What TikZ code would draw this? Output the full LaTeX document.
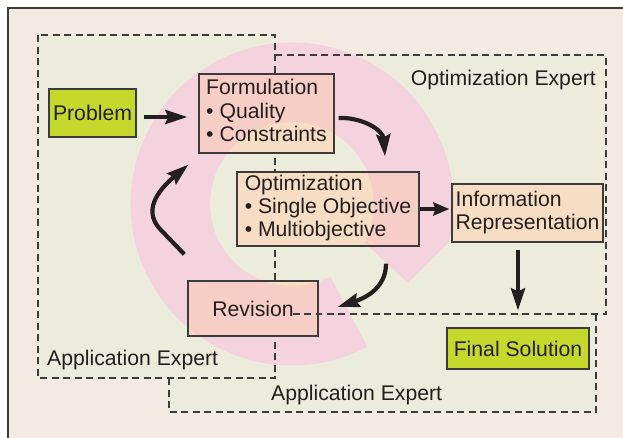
\documentclass[tikz,border=0pt]{standalone}
\usepackage{fontspec}
\setmainfont{Liberation Sans}
\usetikzlibrary{arrows.meta,calc}
\definecolor{bgbeige}{RGB}{243,234,226}
\definecolor{regiongreen}{RGB}{236,236,220}
\definecolor{ringpink}{RGB}{244,210,222}
\definecolor{boxpeach}{RGB}{246,221,196}
\definecolor{boxsalmon}{RGB}{246,206,198}
\definecolor{limebox}{RGB}{197,217,45}
\definecolor{ink}{RGB}{35,31,32}
\definecolor{lineg}{RGB}{60,60,60}
\tikzset{
  ringpath/.style={insert path={(ro) arc[start angle=-13.5,end angle=297.8,radius=161.5] -- (ri) arc[start angle=297.8,end angle=-28,radius=82] -- (ringtip) -- cycle}},
  dashline/.style={draw=lineg, line width=1.3pt, dash pattern=on 7pt off 4.5pt},
  stepbox/.style={draw=lineg, line width=1.3pt, fill=boxpeach, inner sep=0pt, align=left, text=ink,
    path picture={\fill[boxsalmon, ringpath];}},
  limenode/.style={draw=lineg, line width=1.3pt, fill=limebox, inner sep=0pt, text=ink},
  arr/.style={draw=ink, line width=4.2pt, -{Stealth[length=22pt,width=14pt,inset=3pt]}},
  arrsmall/.style={draw=ink, line width=4.2pt, -{Stealth[length=16pt,width=13pt,inset=2pt]}},
  lbl/.style={text=ink, inner sep=0pt}
}
\begin{document}
\begin{tikzpicture}[x=1pt,y=1pt,font=\fontsize{21.2}{23.3}\selectfont]
\clip (0,0) rectangle (623,-437);
% frame
\draw[fill=bgbeige, draw=lineg, line width=1.4pt] (8,-8) rectangle (650,-460);
% regions
\fill[regiongreen] (38,-35) -- (275,-35) -- (275,-55) -- (606,-55) -- (606,-314) -- (596,-314)
  -- (596,-412) -- (169,-412) -- (169,-378) -- (38,-378) -- cycle;
% ring geometry
\coordinate (C) at (292,-204);
\coordinate (ro) at ($(C)+(-13.5:161.5)$);
\coordinate (ri) at ($(C)+(297.8:82)$);
\coordinate (ringtip) at (408,-283);
\fill[ringpink, ringpath];
% dashed expert regions
\draw[dashline] (38,-35) rectangle (275,-378);
\draw[dashline] (275,-55) -- (606,-55) -- (606,-314) -- (275,-314);
\draw[dashline] (596,-314) -- (596,-412) -- (169,-412) -- (169,-378);
% labels
\node[lbl, anchor=base east] (lblopt) at (596,-85) {Optimization Expert};
\node[lbl, anchor=base west] (lblapp) at (47,-365) {Application Expert};
\node[lbl, anchor=base west] (lblappb) at (271,-400) {Application Expert};
% boxes
\node[limenode, minimum width=87pt, minimum height=48pt] (prob) at (92.5,-113) {Problem};
\node[stepbox, minimum width=135pt, minimum height=79pt] (form) at (266.5,-113.5)
  {\strut Formulation\\\strut\textbullet\ Quality\\\strut\textbullet\ Constraints};
\node[stepbox, minimum width=182pt, minimum height=74pt] (opt) at (328,-209)
  {\strut Optimization\\\strut\textbullet\ Single Objective\\\strut\textbullet\ Multiobjective};
\node[stepbox, minimum width=151pt, minimum height=58pt] (info) at (527.5,-213)
  {\strut Information\\\strut Representation};
\node[stepbox, align=center, minimum width=130pt, minimum height=55pt] (rev) at (253,-308.5) {Revision};
\node[limenode, minimum width=142pt, minimum height=41pt] (final) at (518,-348.5) {Final Solution};
\draw[dashline] ($(rev.east)+(-26,-5.5)$) -- ($(rev.east)+(0,-5.5)$);
% connectors
\draw[arr, shorten <=7pt, shorten >=11pt] ([yshift=-4pt]prob.east) -- ([yshift=-4pt]prob.east -| form.west);
\draw[arr] ($(form.east)+(4,-4.5)$) .. controls (362,-117) and (383,-130) .. ($(opt.north)+(57,15)$);
\draw[arrsmall, shorten >=2pt] (opt.east) -- (opt.east -| info.west);
\draw[arr, shorten <=7pt, shorten >=17pt] (final.north |- info.south) -- (final.north);
\draw[arr] ($(opt.south)+(58,-17)$) .. controls (386,-290) and (362,-299) .. ($(rev.east)+(19,1.5)$);
\draw[arr] ($(rev.north west)+(-3,26)$) -- (160,-229) .. controls (147,-215) and (150,-197) .. ($(form.south west)+(-10,-11)$);
\end{tikzpicture}
\end{document}
